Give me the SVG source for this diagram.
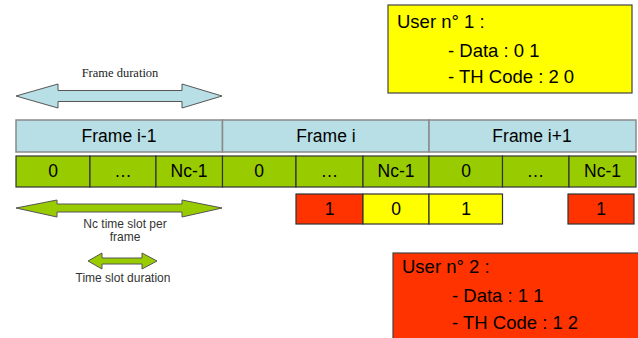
<svg xmlns="http://www.w3.org/2000/svg" width="638" height="338" viewBox="0 0 638 338">
<style>
.t{font-family:"Liberation Sans",Arial,sans-serif;fill:#000}
.frame{fill:#B7DFE5;stroke:#8A8A8A;stroke-width:1.5}
.slot{fill:#99CC00;stroke:#333;stroke-width:1.2}
.red{fill:#FF3300;stroke:#333;stroke-width:1.2}
.yel{fill:#FFFF00;stroke:#333;stroke-width:1.2}
.lbl{font-family:"Liberation Sans",Arial,sans-serif;font-size:12px;fill:#333;text-anchor:middle}
.big{font-size:17.5px;text-anchor:middle}
.usr{font-size:18.5px}
</style>
<g id="frame-duration-arrow">
<polygon points="16,96 58,84 58,90.5 182,90.5 182,84 222,96 182,108 182,101.5 58,101.5 58,108" fill="#B7DFE5" stroke="#555" stroke-width="1"/>
<text x="120" y="77" font-family="'Liberation Serif','Times New Roman',serif" font-size="12.5" fill="#222" text-anchor="middle">Frame duration</text>
</g>
<g id="frames">
<rect class="frame" x="16" y="120" width="206.5" height="32"/>
<rect class="frame" x="222.5" y="120" width="206.5" height="32"/>
<rect class="frame" x="429" y="120" width="207" height="32"/>
<text class="t big" x="119" y="142">Frame i-1</text>
<text class="t big" x="326" y="142">Frame i</text>
<text class="t big" x="532" y="142">Frame i+1</text>
</g>
<g id="slots">
<rect class="slot" x="16" y="156" width="74" height="31"/>
<rect class="slot" x="90" y="156" width="66" height="31"/>
<rect class="slot" x="156" y="156" width="66.5" height="31"/>
<rect class="slot" x="222.5" y="156" width="73.5" height="31"/>
<rect class="slot" x="296" y="156" width="67" height="31"/>
<rect class="slot" x="363" y="156" width="66" height="31"/>
<rect class="slot" x="429" y="156" width="73.5" height="31"/>
<rect class="slot" x="502.5" y="156" width="66.5" height="31"/>
<rect class="slot" x="569" y="156" width="67" height="31"/>
<text class="t big" x="53" y="177">0</text>
<text class="t big" x="123" y="177">…</text>
<text class="t big" x="189" y="177">Nc-1</text>
<text class="t big" x="259" y="177">0</text>
<text class="t big" x="329.5" y="177">…</text>
<text class="t big" x="396" y="177">Nc-1</text>
<text class="t big" x="466" y="177">0</text>
<text class="t big" x="535.5" y="177">…</text>
<text class="t big" x="602.5" y="177">Nc-1</text>
</g>
<g id="user-slots">
<rect class="red" x="296" y="194" width="67" height="30"/>
<rect class="yel" x="363" y="194" width="66" height="30"/>
<rect class="yel" x="429" y="194" width="73.5" height="30"/>
<rect class="red" x="568" y="194" width="66" height="30"/>
<text class="t big" x="329.5" y="215">1</text>
<text class="t big" x="396" y="215">0</text>
<text class="t big" x="466" y="215">1</text>
<text class="t big" x="601" y="215">1</text>
</g>
<g id="nc-arrow">
<polygon points="16,208 57,200 57,204 182,204 182,200 222,208 182,217 182,212 57,212 57,217" fill="#99CC00" stroke="#555" stroke-width="1"/>
<text class="lbl" x="125" y="228">Nc time slot per</text>
<text class="lbl" x="125" y="241">frame</text>
</g>
<g id="slot-duration-arrow">
<polygon points="88,261 102,253 102,258 142,258 142,253 157,261 142,269 142,264 102,264 102,269" fill="#99CC00" stroke="#555" stroke-width="1"/>
<text class="lbl" x="123" y="282">Time slot duration</text>
</g>
<g id="user1">
<rect x="388" y="5" width="244" height="88" fill="#FFFF00" stroke="#444" stroke-width="1.2"/>
<text class="t usr" x="397" y="28">User n° 1 :</text>
<text class="t usr" x="448" y="57">- Data : 0 1</text>
<text class="t usr" x="448" y="83">- TH Code : 2 0</text>
</g>
<g id="user2">
<rect x="393" y="253" width="250" height="90" fill="#FF3300" stroke="#444" stroke-width="1.2"/>
<text class="t usr" x="402" y="273">User n° 2 :</text>
<text class="t usr" x="452" y="302">- Data : 1 1</text>
<text class="t usr" x="452" y="329">- TH Code : 1 2</text>
</g>
</svg>
